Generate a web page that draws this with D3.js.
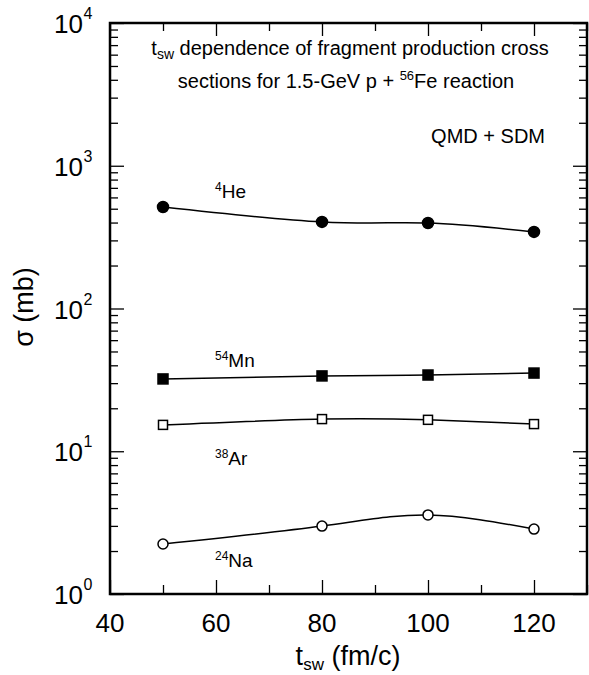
<!DOCTYPE html>
<html lang="en">
<head>
    <meta charset="UTF-8">
    <title>tsw dependence</title>
    <script src="https://d3js.org/d3.v7.min.js"></script>
    <style>
        body {margin: 0; background: white;}
        text {font-family: "Liberation Sans", Arial, sans-serif; fill: black;}
        .domain {display: none;}
    </style>
</head>
<body>
<script>
    const width = 589;
    const height = 675;

    // data
    const tsw = [50, 80, 100, 120];
    const he4  = [514, 404, 397, 344];
    const mn54 = [32.1, 33.7, 34.2, 35.3];
    const ar38 = [15.3, 16.8, 16.6, 15.5];
    const na24 = [2.24, 2.99, 3.58, 2.85];
    const xMajor = [40, 60, 80, 100, 120];
    const xMinor = [50, 70, 90, 110, 130];
    const yMajor = [0, 1, 2, 3, 4];   // exponents

    const margin = {left: 110, right: 587, top: 23, bottom: 594};

    const svg = d3.select("body").append("svg")
            .attr("width", width).attr("height", height);

    const x = d3.scaleLinear().domain([40, 130]).range([margin.left, margin.right]);
    const y = d3.scaleLog().domain([1, 1e4]).range([margin.bottom, margin.top]);

    const yMinor = [];
    yMajor.slice(0, -1).forEach(e => { for (let k = 2; k < 10; k++) yMinor.push(k * Math.pow(10, e)); });

    // ticks, all pointing inward
    function ticks(axis, pos, values, size) {
        svg.append("g")
                .attr("transform", pos)
                .call(axis.tickValues(values).tickSize(size).tickFormat(""))
                .call(g => g.selectAll("line").style("stroke", "black").style("stroke-width", 1.3));
    }
    const yMaj = yMajor.map(e => Math.pow(10, e));
    ticks(d3.axisLeft(y), `translate(${margin.left},0)`, yMaj, -14);
    ticks(d3.axisLeft(y), `translate(${margin.left},0)`, yMinor, -8);
    ticks(d3.axisRight(y), `translate(${margin.right},0)`, yMaj, -14);
    ticks(d3.axisRight(y), `translate(${margin.right},0)`, yMinor, -8);
    ticks(d3.axisBottom(x), `translate(0,${margin.bottom})`, xMajor, -14);
    ticks(d3.axisBottom(x), `translate(0,${margin.bottom})`, xMinor, -9);
    ticks(d3.axisTop(x), `translate(0,${margin.top})`, xMajor, -13);
    ticks(d3.axisTop(x), `translate(0,${margin.top})`, xMinor, -8);

    // frame
    svg.append("rect")
            .attr("x", margin.left).attr("y", margin.top)
            .attr("width", margin.right - margin.left)
            .attr("height", margin.bottom - margin.top)
            .style("fill", "none").style("stroke", "black").style("stroke-width", 2.5);

    // y tick labels 10^n
    svg.selectAll("text.ylab").data(yMajor).enter().append("text")
            .attr("class", "ylab")
            .attr("x", 83).attr("y", e => y(Math.pow(10, e)) + 10)
            .style("font-size", "26px").attr("text-anchor", "end")
            .text("10");
    svg.selectAll("text.yexp").data(yMajor).enter().append("text")
            .attr("class", "yexp")
            .attr("x", 83.5).attr("y", e => y(Math.pow(10, e)) - 4)
            .style("font-size", "16px")
            .text(e => e);

    // x tick labels
    svg.selectAll("text.xlab").data(xMajor).enter().append("text")
            .attr("class", "xlab")
            .attr("x", d => x(d)).attr("y", 632)
            .attr("text-anchor", "middle").style("font-size", "26px")
            .text(d => d);

    // axis titles
    const xt = svg.append("text").attr("x", 348).attr("y", 665)
            .attr("text-anchor", "middle").style("font-size", "27px");
    xt.append("tspan").text("t");
    xt.append("tspan").attr("dy", 5).style("font-size", "17px").text("sw");
    xt.append("tspan").attr("dy", -5).text(" (fm/c)");

    svg.append("text")
            .attr("transform", "translate(33,307) rotate(-90)")
            .attr("text-anchor", "middle").style("font-size", "27px")
            .text("σ (mb)");

    // title
    const t1 = svg.append("text").attr("x", 350).attr("y", 55)
            .attr("text-anchor", "middle").style("font-size", "20px");
    t1.append("tspan").text("t");
    t1.append("tspan").attr("dy", 4).style("font-size", "14px").text("sw");
    t1.append("tspan").attr("dy", -4).text(" dependence of fragment production cross");
    const t2 = svg.append("text").attr("x", 346).attr("y", 88)
            .attr("text-anchor", "middle").style("font-size", "20px");
    t2.append("tspan").text("sections for 1.5-GeV p + ");
    t2.append("tspan").attr("dy", -8).style("font-size", "13px").text("56");
    t2.append("tspan").attr("dy", 8).text("Fe reaction");
    svg.append("text").attr("x", 545).attr("y", 143)
            .attr("text-anchor", "end").style("font-size", "20px")
            .text("QMD + SDM");

    // series
    const series = [
        {mass: "4",  el: "He", values: he4,  shape: "circle", fill: "black", lx: 215, ly: 198},
        {mass: "54", el: "Mn", values: mn54, shape: "square", fill: "black", lx: 215, ly: 367},
        {mass: "38", el: "Ar", values: ar38, shape: "square", fill: "white", lx: 215, ly: 465},
        {mass: "24", el: "Na", values: na24, shape: "circle", fill: "white", lx: 215, ly: 567}
    ];

    const line = d3.line().x(d => x(d[0])).y(d => y(d[1])).curve(d3.curveNatural);

    series.forEach(s => {
        const pts = tsw.map((t, i) => [t, s.values[i]]);
        svg.append("path").datum(pts)
                .attr("d", line)
                .style("fill", "none").style("stroke", "black").style("stroke-width", 1.5);
        const g = svg.selectAll(null).data(pts).enter().append("g")
                .attr("transform", d => `translate(${x(d[0])},${y(d[1])})`);
        if (s.shape === "circle") {
            g.append("circle").attr("r", s.fill === "black" ? 5.5 : 5)
                    .style("fill", s.fill).style("stroke", "black").style("stroke-width", 1.5);
        } else {
            const h = s.fill === "black" ? 5 : 4.5;
            g.append("rect").attr("x", -h).attr("y", -h).attr("width", 2 * h).attr("height", 2 * h)
                    .style("fill", s.fill).style("stroke", "black").style("stroke-width", 1.5);
        }
        const lab = svg.append("text").attr("x", s.lx).attr("y", s.ly).style("font-size", "19px");
        lab.append("tspan").attr("dy", -7).style("font-size", "12px").text(s.mass);
        lab.append("tspan").attr("dy", 7).text(s.el);
    });
</script>
</body>
</html>
